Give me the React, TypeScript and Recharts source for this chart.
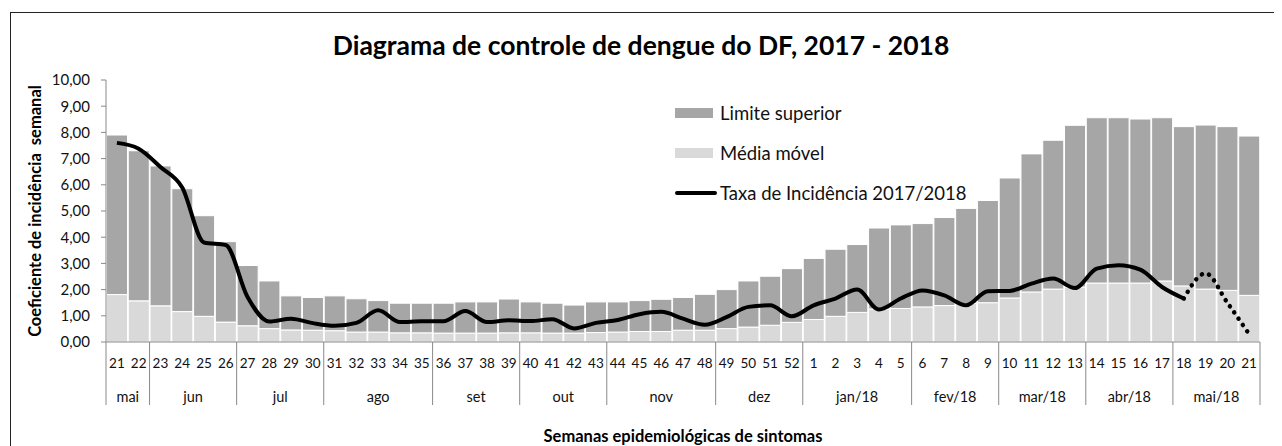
import React from "react";
import { ComposedChart, Bar, Line, XAxis, YAxis } from "recharts";

// semanas epidemiológicas (21/2017 a 21/2018)
const semanas = [
  "21", "22", "23", "24", "25", "26", "27", "28", "29", "30", "31", "32", "33", "34", "35", "36",
  "37", "38", "39", "40", "41", "42", "43", "44", "45", "46", "47", "48", "49", "50", "51", "52",
  "1", "2", "3", "4", "5", "6", "7", "8", "9", "10", "11", "12", "13", "14", "15", "16", "17",
  "18", "19", "20", "21",
];

const limiteSuperior = [
  7.9, 7.3, 6.72, 5.85, 4.82, 3.83, 2.92, 2.33, 1.76, 1.7, 1.76, 1.65, 1.58, 1.48, 1.48, 1.48,
  1.53, 1.53, 1.64, 1.53, 1.48, 1.41, 1.53, 1.53, 1.58, 1.63, 1.7, 1.82, 2.0, 2.33, 2.51, 2.8,
  3.19, 3.54, 3.72, 4.35, 4.47, 4.52, 4.75, 5.1, 5.4, 6.26, 7.18, 7.7, 8.27, 8.56, 8.56, 8.51, 8.56,
  8.22, 8.28, 8.22, 7.86,
];

const mediaMovel = [
  1.81, 1.57, 1.38, 1.16, 0.98, 0.76, 0.62, 0.51, 0.46, 0.45, 0.43, 0.38, 0.38, 0.35, 0.35, 0.34,
  0.34, 0.34, 0.35, 0.35, 0.34, 0.34, 0.36, 0.38, 0.4, 0.4, 0.45, 0.45, 0.51, 0.57, 0.64, 0.75,
  0.86, 0.98, 1.13, 1.26, 1.28, 1.34, 1.39, 1.47, 1.5, 1.68, 1.91, 2.02, 2.1, 2.25, 2.25, 2.25, 2.33,
  2.14, 2.02, 1.97, 1.78,
];

const taxaIncidencia = [
  7.6, 7.38, 6.68, 5.9, 3.8, 3.7, 1.72, 0.78, 0.89, 0.72, 0.62, 0.73, 1.21, 0.76, 0.79, 0.79,
  1.18, 0.76, 0.83, 0.8, 0.87, 0.52, 0.73, 0.84, 1.06, 1.15, 0.89, 0.66, 0.95, 1.34, 1.4, 0.98,
  1.4, 1.66, 2.0, 1.24, 1.66, 1.97, 1.78, 1.4, 1.94, 1.95, 2.23, 2.42, 2.06, 2.8, 2.93, 2.76, 2.1,
  1.66, null, null, null,
];

// trecho pontilhado (semanas 18 a 21/2018)
const taxaParcial = [
  null, null, null, null, null, null, null, null, null, null, null, null, null, null, null, null,
  null, null, null, null, null, null, null, null, null, null, null, null, null, null, null, null,
  null, null, null, null, null, null, null, null, null, null, null, null, null, null, null, null, null,
  1.66, 2.62, 1.5, 0.3,
];

const meses = ["mai", "jun", "jul", "ago", "set", "out", "nov", "dez", "jan/18", "fev/18", "mar/18", "abr/18", "mai/18"];
const semanasPorMes = [2, 4, 4, 5, 4, 4, 5, 4, 5, 4, 4, 4, 4];

const yTicks = [0, 1, 2, 3, 4, 5, 6, 7, 8, 9, 10];

const FONT = "Lato, 'Open Sans', sans-serif";
const W = 1274;
const H = 438;
const MARGIN = { top: 72, right: 22, left: 38, bottom: 34 };
const Y_AXIS_W = 60;
const PLOT_W = W - MARGIN.left - MARGIN.right - Y_AXIS_W;

const CINZA_ESCURO = "#a6a6a6";
const CINZA_CLARO = "#d9d9d9";
const AXIS = "#898989";

const data = semanas.map((s, i) => ({
  semana: s,
  media: mediaMovel[i],
  excesso: +(limiteSuperior[i] - mediaMovel[i]).toFixed(2),
  taxa: taxaIncidencia[i],
  parcial: taxaParcial[i],
}));

const inicioMes: Record<number, number> = {};
let acc = 0;
semanasPorMes.forEach((n, m) => {
  inicioMes[acc] = m;
  acc += n;
});

function SemanaTick(props: any) {
  const { x, y, payload, index } = props;
  const half = payload && payload.offset > 3 ? payload.offset : PLOT_W / semanas.length / 2;
  const m = inicioMes[index];
  const left = x - half;
  return (
    <g>
      <text x={x} y={y + 21} textAnchor="middle" dominantBaseline="central" fontSize={13.5} fill="#111" fontFamily={FONT}>
        {payload.value}
      </text>
      {m !== undefined && (
        <g>
          <line x1={left} y1={y} x2={left} y2={y + 63} stroke={AXIS} strokeWidth={1} />
          <text
            x={left + semanasPorMes[m] * half}
            y={y + 54}
            textAnchor="middle"
            dominantBaseline="central"
            fontSize={14.5}
            fill="#111"
            fontFamily={FONT}
          >
            {meses[m]}
          </text>
        </g>
      )}
      {index === semanas.length - 1 && (
        <line x1={x + half} y1={y} x2={x + half} y2={y + 63} stroke={AXIS} strokeWidth={1} />
      )}
    </g>
  );
}

const legenda = [
  { nome: "Limite superior", cor: CINZA_ESCURO, tipo: "rect" },
  { nome: "Média móvel", cor: CINZA_CLARO, tipo: "rect" },
  { nome: "Taxa de Incidência 2017/2018", cor: "#000", tipo: "line" },
];

export default function App() {
  return (
    <div style={{ position: "relative", width: W, height: H, overflow: "hidden", background: "#fff" }}>
      <div
        style={{
          position: "absolute",
          left: 2,
          top: 4,
          width: W + 40,
          height: H + 40,
          border: "1.5px solid #222",
        }}
      />
      <ComposedChart width={W} height={H} data={data} margin={MARGIN} barCategoryGap={0.5}>
        <XAxis
          dataKey="semana"
          interval={0}
          tickLine={false}
          tickSize={0}
          tickMargin={0}
          height={70}
          axisLine={{ stroke: AXIS }}
          tick={<SemanaTick />}
        />
        <YAxis
          domain={[0, 10]}
          ticks={yTicks}
          width={Y_AXIS_W}
          tickSize={5}
          tickMargin={11}
          axisLine={{ stroke: AXIS }}
          tickLine={{ stroke: AXIS }}
          tick={{ fontSize: 15, fill: "#111", fontFamily: FONT }}
          tickFormatter={(v: number) => v.toFixed(2).replace(".", ",")}
        />
        <Bar dataKey="media" name="Média móvel" stackId="a" fill={CINZA_CLARO} stroke="#fff" strokeWidth={1} isAnimationActive={false} />
        <Bar dataKey="excesso" name="Limite superior" stackId="a" fill={CINZA_ESCURO} stroke="#fff" strokeWidth={1} isAnimationActive={false} />
        <Line
          type="monotone"
          dataKey="taxa"
          name="Taxa de Incidência 2017/2018"
          stroke="#000"
          strokeWidth={4}
          dot={false}
          isAnimationActive={false}
        />
        <Line
          type="monotone"
          dataKey="parcial"
          name="parcial"
          stroke="#000"
          strokeWidth={4.5}
          strokeDasharray="0.1 7.5"
          strokeLinecap="round"
          dot={false}
          isAnimationActive={false}
        />
      </ComposedChart>
      <div style={{ position: "absolute", left: 667, top: 85, fontFamily: FONT, fontSize: 18.5, color: "#111" }}>
        {legenda.map((it) => (
          <div key={it.nome} style={{ display: "flex", alignItems: "center", height: 40, whiteSpace: "nowrap" }}>
            {it.tipo === "line" ? (
              <div style={{ width: 42, height: 4, background: it.cor, borderRadius: 2 }} />
            ) : (
              <div style={{ width: 38, height: 10, background: it.cor, marginRight: 4 }} />
            )}
            <span style={{ marginLeft: 3 }}>{it.nome}</span>
          </div>
        ))}
      </div>
      <div
        style={{
          position: "absolute",
          left: 0,
          width: 1266,
          top: 24,
          textAlign: "center",
          fontFamily: FONT,
          fontWeight: 700,
          fontSize: 26.5,
          lineHeight: "26px",
          color: "#000",
        }}
      >
        Diagrama de controle de dengue do DF, 2017 - 2018
      </div>
      <div
        style={{
          position: "absolute",
          left: 27,
          top: 203,
          transform: "translate(-50%, -50%) rotate(-90deg)",
          whiteSpace: "nowrap",
          fontFamily: FONT,
          fontWeight: 700,
          fontSize: 16.5,
          color: "#000",
        }}
      >
        Coeficiente de incidência&nbsp; semanal
      </div>
      <div
        style={{
          position: "absolute",
          left: 675,
          top: 428,
          transform: "translate(-50%, -50%)",
          whiteSpace: "nowrap",
          fontFamily: FONT,
          fontWeight: 700,
          fontSize: 16.5,
          color: "#000",
        }}
      >
        Semanas epidemiológicas de sintomas
      </div>
    </div>
  );
}
